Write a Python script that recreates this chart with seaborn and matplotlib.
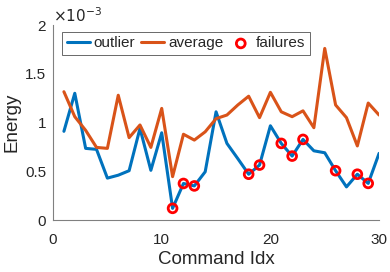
import numpy as np
import pandas as pd
import matplotlib
matplotlib.use("Agg")
import matplotlib.pyplot as plt
import seaborn as sns

# Energy per command (units of 1e-3)
command_idx = list(range(1, 31))
outlier = [0.91, 1.30, 0.735, 0.725, 0.43, 0.46, 0.506, 0.94, 0.51, 0.895,
           0.12, 0.375, 0.35, 0.495, 1.11, 0.786, 0.63, 0.47, 0.564, 0.967,
           0.786, 0.656, 0.827, 0.71, 0.69, 0.506, 0.34, 0.47, 0.376, 0.684]
average = [1.316, 1.06, 0.92, 0.745, 0.735, 1.28, 0.845, 0.975, 0.745, 1.145,
           0.445, 0.88, 0.82, 0.905, 1.04, 1.077, 1.18, 1.27, 1.05, 1.31,
           1.11, 1.06, 1.12, 0.947, 1.76, 1.18, 1.05, 0.76, 1.2, 1.077]
failure_idx = [11, 12, 13, 18, 19, 21, 22, 23, 26, 28, 29]
y_ticks = [0, 0.5, 1, 1.5, 2]
y_tick_labels = ["0", "0.5", "1", "1.5", "2"]

df = pd.DataFrame({
    "idx": command_idx,
    "outlier": np.array(outlier) * 1e-3,
    "average": np.array(average) * 1e-3,
})
fail = df[df["idx"].isin(failure_idx)]

sns.set_style("white")
plt.rcParams["font.family"] = ["Liberation Sans", "DejaVu Sans"]

fig = plt.figure(figsize=(3.9, 2.72), dpi=100)
ax = fig.add_axes([0.136, 0.191, 0.836, 0.717])

sns.lineplot(data=df, x="idx", y="outlier", color="#0072BD", linewidth=2.2,
             label="outlier", ax=ax)
sns.lineplot(data=df, x="idx", y="average", color="#D95319", linewidth=2.2,
             label="average", ax=ax)
sns.scatterplot(data=fail, x="idx", y="outlier", marker="o", s=40,
                facecolor="none", edgecolor="red", linewidth=2.0,
                label="failures", ax=ax, zorder=5)

ax.set_xlim(0, 30)
ax.set_ylim(0, 2e-3)
ax.set_xticks([0, 10, 20, 30])
ax.set_yticks(np.array(y_ticks) * 1e-3)
ax.set_yticklabels(y_tick_labels)
ax.text(0.0, 1.0, r"$\times10^{-3}$", transform=ax.transAxes, fontsize=11,
        color="#262626", ha="left", va="bottom")

ax.set_xlabel("Command Idx", fontsize=13.5, color="#262626", labelpad=3)
ax.set_ylabel("Energy", fontsize=13.5, color="#262626", labelpad=3)
ax.tick_params(direction="in", length=3, width=0.6, colors="#808080",
               labelcolor="#262626", labelsize=11)
ax.tick_params(axis="x", pad=9)
ax.tick_params(axis="y", pad=5)
for side in ["top", "right"]:
    ax.spines[side].set_visible(False)
for side in ["left", "bottom"]:
    ax.spines[side].set_color("#808080")
    ax.spines[side].set_linewidth(0.8)

leg = ax.legend(loc="upper left", bbox_to_anchor=(0.028, 0.965), ncol=3,
                fontsize=11, frameon=True, fancybox=False, borderaxespad=0,
                handlelength=1.5, handletextpad=0.25, columnspacing=0.4,
                borderpad=0.3)
leg.get_frame().set_edgecolor("#262626")
leg.get_frame().set_linewidth(0.6)

fig.savefig("out.png", dpi=100)
